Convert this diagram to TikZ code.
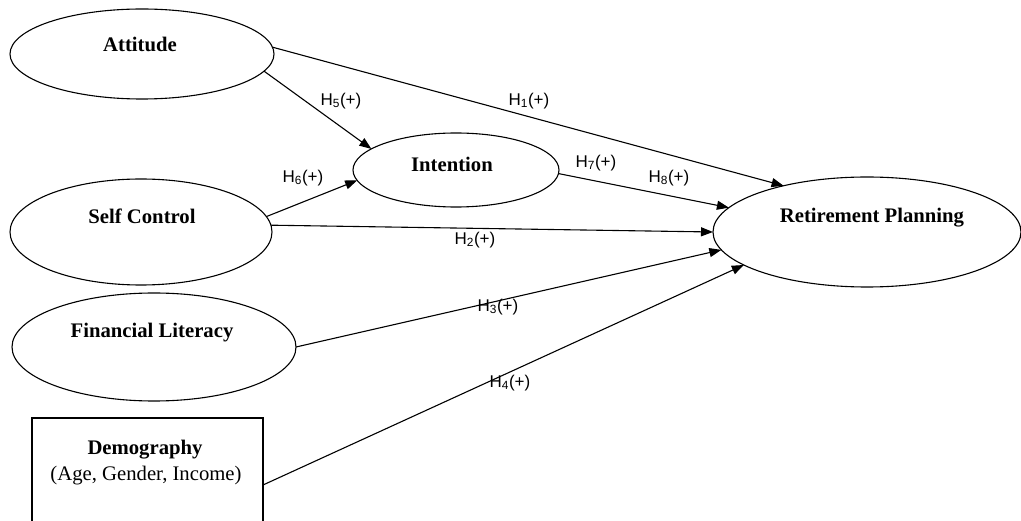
\documentclass[tikz,border=0pt]{standalone}
\usepackage{fontspec}
\setmainfont{Liberation Serif}
\setsansfont{Liberation Sans}
\usetikzlibrary{shapes.geometric,arrows.meta}

\begin{document}
\begin{tikzpicture}[x=1pt,y=1pt,
  construct/.style={draw, ellipse, line width=1.1pt, inner sep=0pt, outer sep=0pt},
  title/.style={anchor=base, inner sep=0pt, font=\fontsize{20.7}{25}\selectfont\bfseries},
  subtitle/.style={anchor=base, inner sep=0pt, font=\fontsize{20.7}{25}\selectfont},
  relation/.style={line width=1.1pt, -{Triangle[length=12pt,width=9pt]}},
  hyp/.style={font=\fontsize{17}{20}\sffamily, inner sep=0pt}
]
\useasboundingbox (0,0) rectangle (1021,-521);

% constructs
\node[construct, minimum width=264pt, minimum height=90pt]  (att) at (142,-54)  {};
\node[construct, minimum width=206pt, minimum height=74pt]  (int) at (456,-170) {};
\node[construct, minimum width=262pt, minimum height=106pt] (sc)  at (141,-232) {};
\node[construct, minimum width=284pt, minimum height=108pt] (fl)  at (154,-347) {};
\node[construct, minimum width=308pt, minimum height=110pt] (ret) at (867,-232) {};
\node[draw, line width=1.1pt, inner sep=0pt, outer sep=0pt,
      minimum width=231pt, minimum height=134pt] (dem) at (147.5,-485) {};

% construct names
\node[title] (att-t) at (140,-52)  {Attitude};
\node[title] (int-t) at (452,-172) {Intention};
\node[title] (sc-t)  at (142,-224) {Self Control};
\node[title] (fl-t)  at (152,-338) {Financial Literacy};
\node[title] (ret-t) at (872,-223) {Retirement Planning};
\node[title] (dem-t) at (145,-455) {Demography};
\node[subtitle] (dem-s) at (146,-481) {(Age, Gender, Income)};

% hypothesised paths
\draw[relation] (att.3)    -- (ret.151);
\draw[relation] (att.-8.5) -- (int.166);
\draw[relation] (sc.7)     -- (int.-174);
\draw[relation] (int.-2)   -- (ret.170);
\draw[relation] (sc.3.5)   -- (ret.180);
\draw[relation] (fl.0.5)   -- (ret.-173);
\draw[relation] (dem.east) -- (ret.-165);

% path labels
\node[hyp] (h1) at (529,-101) {H\textsubscript{1}(+)};
\node[hyp] (h5) at (341,-101) {H\textsubscript{5}(+)};
\node[hyp] (h6) at (303,-178) {H\textsubscript{6}(+)};
\node[hyp] (h7) at (596,-163) {H\textsubscript{7}(+)};
\node[hyp] (h8) at (669,-178) {H\textsubscript{8}(+)};
\node[hyp] (h2) at (475,-240) {H\textsubscript{2}(+)};
\node[hyp] (h3) at (498,-307) {H\textsubscript{3}(+)};
\node[hyp] (h4) at (510,-383) {H\textsubscript{4}(+)};
\end{tikzpicture}
\end{document}
